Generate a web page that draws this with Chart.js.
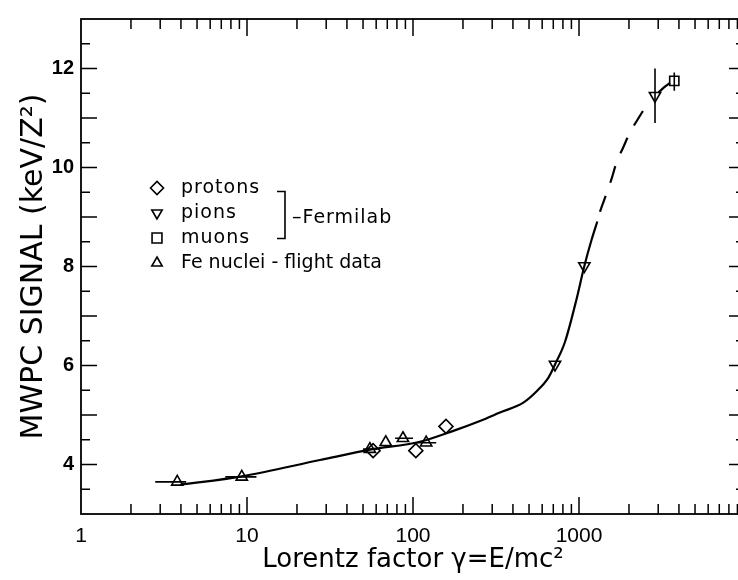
<!DOCTYPE html>
<html>
<head>
<meta charset="utf-8">
<script src="https://cdn.jsdelivr.net/npm/chart.js@4.4.1/dist/chart.umd.min.js"></script>
<style>
  html, body { margin: 0; padding: 0; background: #fff; overflow: hidden; }
  #wrap { width: 760px; height: 580px; }
</style>
</head>
<body>
<div id="wrap"><canvas id="chart" width="760" height="580"></canvas></div>
<script>
// values (gamma = Lorentz factor, signal in keV/Z^2)
const fitGamma = [3.95, 9.3, 27.5, 55, 110, 175, 253, 334, 462, 556, 653, 717, 824, 968, 1077, 1193, 1289];
const fitSignal = [3.59, 3.76, 4.09, 4.3, 4.46, 4.68, 4.88, 5.05, 5.25, 5.48, 5.75, 6.02, 6.48, 7.35, 8.01, 8.55, 8.91];

const extGamma = [1289, 1339, 1468, 1574, 1686, 1849, 2029, 2266, 2600];
const extSignal = [8.91, 9.11, 9.48, 9.78, 10.11, 10.41, 10.71, 10.98, 11.3];

const linkGamma = [3005, 3250, 3533];
const linkSignal = [11.51, 11.62, 11.71];

const protonGamma = [57.5, 104, 158];
const protonSignal = [4.28, 4.28, 4.77];

const pionGamma = [717, 1077, 2870];
const pionSignal = [6.02, 8.01, 11.45];
const pionSignalLo = [null, null, 10.9];
const pionSignalHi = [null, null, 12.0];

const muonGamma = [3750];
const muonSignal = [11.75];
const muonSignalLo = [11.55];
const muonSignalHi = [11.92];

const feGamma = [3.8, 9.3, 55, 68.5, 87, 120];
const feSignal = [3.65, 3.75, 4.31, 4.45, 4.53, 4.44];
const feGammaLo = [2.8, 7.4, 50, 68.5, 78, 100];
const feGammaHi = [4.3, 11.4, 61, 68.5, 100, 138];

const xTickValues = [1, 10, 100, 1000];
const yTickValues = [4, 6, 8, 10, 12];

const legendLabels = ["protons", "pions", "muons", "Fe nuclei - flight data"];
const bracketLabel = "\u2013Fermilab";

const pts = (xs, ys) => xs.map((x, i) => ({ x: x, y: ys[i] }));

// frame, inward ticks, error bars and the legend block
const decorPlugin = {
  id: "decor",
  afterDatasetsDraw(chart) {
    const { ctx, chartArea: a, scales: { x, y } } = chart;
    ctx.save();
    ctx.strokeStyle = "#000";
    ctx.lineCap = "butt";

    // error bars
    ctx.lineWidth = 1.6;
    ctx.beginPath();
    feGamma.forEach((g, i) => {
      if (feGammaLo[i] === feGammaHi[i]) return;
      const py = y.getPixelForValue(feSignal[i]);
      ctx.moveTo(x.getPixelForValue(feGammaLo[i]), py);
      ctx.lineTo(x.getPixelForValue(feGammaHi[i]), py);
    });
    pionGamma.forEach((g, i) => {
      if (pionSignalLo[i] == null) return;
      const px = x.getPixelForValue(g);
      ctx.moveTo(px, y.getPixelForValue(pionSignalLo[i]));
      ctx.lineTo(px, y.getPixelForValue(pionSignalHi[i]));
    });
    muonGamma.forEach((g, i) => {
      const px = x.getPixelForValue(g);
      ctx.moveTo(px, y.getPixelForValue(muonSignalLo[i]));
      ctx.lineTo(px, y.getPixelForValue(muonSignalHi[i]));
    });
    ctx.stroke();

    // frame
    ctx.lineWidth = 1.8;
    ctx.strokeRect(a.left, a.top, a.right - a.left, a.bottom - a.top);

    // ticks pointing inward on all four sides
    ctx.lineWidth = 1.5;
    ctx.beginPath();
    for (let d = 1; d < 10000; d *= 10) {
      for (let m = 1; m < 10; m++) {
        if (d * m === 1) continue;
        const px = x.getPixelForValue(d * m);
        const len = m === 1 ? 17 : 10;
        ctx.moveTo(px, a.bottom); ctx.lineTo(px, a.bottom - len);
        ctx.moveTo(px, a.top); ctx.lineTo(px, a.top + len);
      }
    }
    for (let v = 3.5; v < 13; v += 0.5) {
      const py = y.getPixelForValue(v);
      const len = Number.isInteger(v) ? 16 : 9;
      ctx.moveTo(a.left, py); ctx.lineTo(a.left + len, py);
      ctx.moveTo(a.right, py); ctx.lineTo(a.right - len, py);
    }
    ctx.stroke();

    // legend
    const lx = 157;
    const rows = [193, 218, 243, 268];
    const marks = [
      { pointStyle: "rectRot", radius: 6.5, rotation: 0 },
      { pointStyle: "triangle", radius: 6, rotation: 180 },
      { pointStyle: "rect", radius: 7, rotation: 0 },
      { pointStyle: "triangle", radius: 6, rotation: 0 }
    ];
    ctx.lineWidth = 1.6;
    ctx.fillStyle = "rgba(0,0,0,0)";
    marks.forEach((m, i) => {
      Chart.helpers.drawPoint(ctx, Object.assign({ borderWidth: 1.6 }, m), lx, rows[i] - 5);
    });
    ctx.fillStyle = "#000";
    ctx.font = "19px 'DejaVu Sans'";
    ctx.textBaseline = "alphabetic";
    ctx.textAlign = "left";
    legendLabels.forEach((t, i) => {
      ctx.letterSpacing = i < 3 ? "1px" : "0px";
      ctx.fillText(t, 181, rows[i]);
    });
    ctx.letterSpacing = "1px";
    ctx.fillText(bracketLabel, 292, 223);

    ctx.lineWidth = 1.6;
    ctx.beginPath();
    ctx.moveTo(277, 191.5); ctx.lineTo(285, 191.5); ctx.lineTo(285, 238.5); ctx.lineTo(277, 238.5);
    ctx.stroke();
    ctx.restore();
  }
};

const markerBase = {
  showLine: false,
  borderColor: "#000",
  backgroundColor: "rgba(0,0,0,0)",
  pointBorderWidth: 1.6,
  pointHoverRadius: 0
};
const lineBase = {
  showLine: true,
  borderColor: "#000",
  borderWidth: 2.2,
  pointRadius: 0,
  pointHoverRadius: 0,
  cubicInterpolationMode: "monotone",
  fill: false
};

new Chart(document.getElementById("chart"), {
  type: "scatter",
  data: {
    datasets: [
      Object.assign({}, lineBase, { label: "fit", data: pts(fitGamma, fitSignal) }),
      Object.assign({}, lineBase, { label: "extrapolation", data: pts(extGamma, extSignal), borderDash: [17, 14], borderDashOffset: 21 }),
      Object.assign({}, lineBase, { label: "link", data: pts(linkGamma, linkSignal) }),
      Object.assign({}, markerBase, { label: "protons", data: pts(protonGamma, protonSignal), pointStyle: "rectRot", pointRadius: 7 }),
      Object.assign({}, markerBase, { label: "pions", data: pts(pionGamma, pionSignal), pointStyle: "triangle", pointRotation: 180, pointRadius: 6.5 }),
      Object.assign({}, markerBase, { label: "muons", data: pts(muonGamma, muonSignal), pointStyle: "rect", pointRadius: 6.5 }),
      Object.assign({}, markerBase, { label: "Fe nuclei", data: pts(feGamma, feSignal), pointStyle: "triangle", pointRadius: 6.5 })
    ]
  },
  options: {
    responsive: false,
    animation: false,
    events: [],
    layout: { padding: { top: 14, right: 15, left: 0, bottom: 0 } },
    plugins: { legend: { display: false }, tooltip: { enabled: false } },
    scales: {
      x: {
        type: "logarithmic",
        min: 1,
        max: 10000,
        grid: { display: false, drawTicks: false },
        border: { display: false },
        afterBuildTicks: (s) => { s.ticks = xTickValues.map((v) => ({ value: v })); },
        afterFit: (s) => { s.height = 66; },
        ticks: {
          color: "#000",
          padding: 10,
          maxRotation: 0,
          autoSkip: false,
          font: { family: "'Liberation Sans', Arial, sans-serif", size: 21 },
          callback: (v) => String(v)
        },
        title: {
          display: true,
          text: "Lorentz factor \u03b3=E/mc\u00b2",
          color: "#000",
          font: { family: "'DejaVu Sans', sans-serif", size: 26 },
          padding: { top: 0, bottom: 4 }
        }
      },
      y: {
        type: "linear",
        min: 3,
        max: 13,
        grid: { display: false, drawTicks: false },
        border: { display: false },
        afterBuildTicks: (s) => { s.ticks = yTickValues.map((v) => ({ value: v })); },
        afterFit: (s) => { s.width = 81; },
        ticks: {
          color: "#000",
          padding: 7,
          font: { family: "'Liberation Sans', Arial, sans-serif", size: 20, weight: "bold" },
          callback: (v) => String(v)
        },
        title: {
          display: true,
          text: "MWPC SIGNAL (keV/Z\u00b2)",
          color: "#000",
          font: { family: "'DejaVu Sans', sans-serif", size: 30 },
          padding: { top: 16, bottom: 0 }
        }
      }
    }
  },
  plugins: [decorPlugin]
});
</script>
</body>
</html>
